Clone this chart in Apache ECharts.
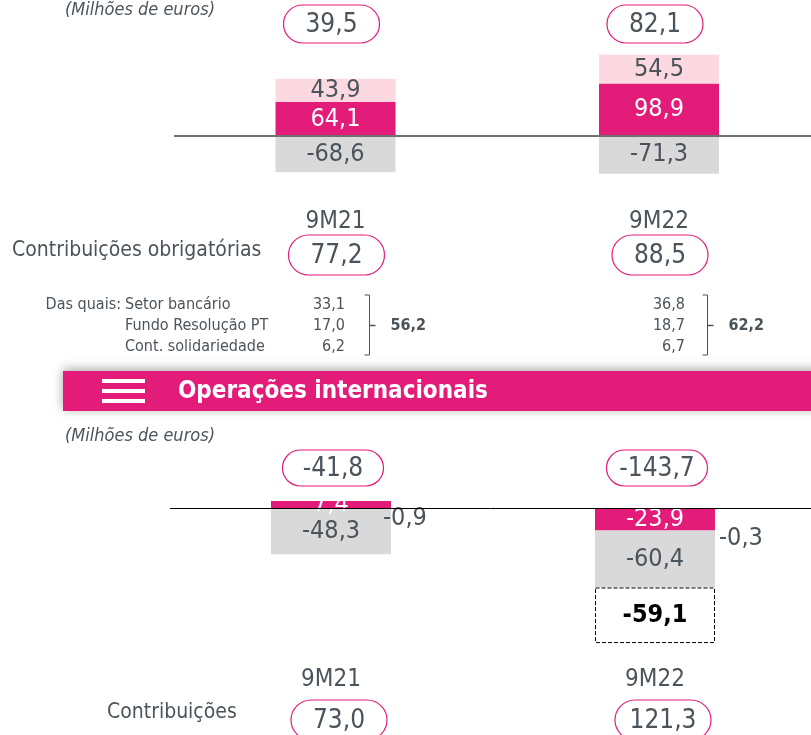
<!DOCTYPE html>
<html>
<head>
<meta charset="utf-8">
<script src="https://cdn.jsdelivr.net/npm/echarts@6/dist/echarts.min.js"></script>
<style>
  html, body { margin: 0; padding: 0; background: #fff; }
  #main { width: 811px; height: 735px; }
</style>
</head>
<body>
<div id="main"></div>
<script>
  const periods = ['9M21', '9M22']

  // Atividade em Portugal
  const ptMargem = [64.1, 98.9]
  const ptOutros = [43.9, 54.5]
  const ptCustos = [-68.6, -71.3]
  const ptTotal = [39.5, 82.1]
  const ptContrib = [77.2, 88.5]
  const setorBancario = [33.1, 36.8]
  const fundoResolucao = [17.0, 18.7]
  const contSolidariedade = [6.2, 6.7]
  const subtotal = [56.2, 62.2]

  // Operações internacionais
  const intMargem = [7.4, -23.9]
  const intOutros = [-0.9, -0.3]
  const intCustos = [-48.3, -60.4]
  const intExtra = [null, -59.1]
  const intTotal = [-41.8, -143.7]
  const intContrib = [73.0, 121.3]

  const MAGENTA = '#e31b79'
  const PINK = '#fcd9e1'
  const GRAY = '#d9d9d9'
  const TEXT = '#4b535b'
  const FONT = "'DejaVu Sans Condensed', 'Liberation Sans Narrow', 'DejaVu Sans', sans-serif"

  const fmt = v => v.toFixed(1).replace('.', ',')

  const valueLabel = (color, extra) => Object.assign({
    show: true,
    position: 'inside',
    color: color,
    fontSize: 25,
    fontFamily: FONT,
    formatter: p => fmt(p.value)
  }, extra || {})

  const bar = (grid, stack, data, color, label, extra) => Object.assign({
    type: 'bar',
    xAxisIndex: grid,
    yAxisIndex: grid,
    stack: stack,
    barWidth: 120,
    clip: false,
    data: data,
    itemStyle: { color: color },
    label: label
  }, extra || {})

  const chart = echarts.init(document.getElementById('main'))

  chart.setOption({
    animation: false,
    grid: [
      { left: 335.5, width: 323.5, top: 30, height: 159 },
      { left: 331, width: 324, top: 470.4, height: 188 }
    ],
    xAxis: [0, 1].map(i => ({
      gridIndex: i,
      type: 'category',
      boundaryGap: false,
      data: periods,
      axisLine: { show: false },
      axisTick: { show: false },
      splitLine: { show: false },
      axisLabel: {
        color: TEXT,
        fontSize: 24,
        fontFamily: FONT,
        margin: i === 0 ? 21 : 9
      }
    })),
    yAxis: [
      { gridIndex: 0, type: 'value', min: -100, max: 200, show: false },
      { gridIndex: 1, type: 'value', min: -160, max: 40, show: false }
    ],
    series: [
      bar(0, 'pt', ptMargem, MAGENTA, valueLabel('#fff')),
      bar(0, 'pt', ptOutros, PINK, valueLabel(TEXT)),
      bar(0, 'pt', ptCustos, GRAY, valueLabel(TEXT)),
      bar(1, 'int', intMargem, MAGENTA, valueLabel('#fff')),
      bar(1, 'int', intOutros.map((v, i) => ({
        value: v,
        label: { distance: i === 0 ? -8 : 4, offset: [0, i === 0 ? 10 : 8] }
      })), GRAY, valueLabel(TEXT, { position: 'right' })),
      bar(1, 'int', intCustos, GRAY, valueLabel(TEXT)),
      bar(1, 'int', intExtra, '#fff', valueLabel('#000', { fontWeight: 'bold' }), {
        itemStyle: { color: '#fff', borderColor: '#000', borderWidth: 1, borderType: 'dashed' }
      })
    ]
  })

  // caixas arredondadas com os totais
  function pill(cx, cy, v, w, h) {
    w = w || 96
    h = h || 38
    return {
      type: 'group',
      children: [
        {
          type: 'rect',
          shape: { x: cx - w / 2, y: cy - h / 2, width: w, height: h, r: h / 2 },
          style: { fill: '#fff', stroke: MAGENTA, lineWidth: 1.2 }
        },
        {
          type: 'text', x: cx, y: cy + 1,
          style: { text: fmt(v), fill: TEXT, fontSize: 26, fontFamily: FONT, align: 'center', verticalAlign: 'middle' }
        }
      ]
    }
  }

  function txt(x, y, s, opts) {
    return {
      type: 'text', x: x, y: y,
      style: Object.assign({ text: s, fill: TEXT, fontSize: 16, fontFamily: FONT, align: 'left', verticalAlign: 'middle' }, opts || {})
    }
  }

  function bracket(x, sub) {
    return [
      { type: 'polyline', shape: { points: [[x - 5, 295], [x, 295], [x, 355], [x - 5, 355]] }, style: { stroke: TEXT, lineWidth: 1, fill: null } },
      { type: 'line', shape: { x1: x, y1: 325.5, x2: x + 6, y2: 325.5 }, style: { stroke: TEXT, lineWidth: 1.5 } },
      txt(x + 21, 326, fmt(sub), { fontWeight: 'bold' })
    ]
  }

  const graphic = []
  const rows = [setorBancario, fundoResolucao, contSolidariedade]
  const valueRight = [345, 685]
  const bracketX = [369.5, 707.5]

  // linhas de base no zero de cada painel
  const zeroTop = chart.convertToPixel({ gridIndex: 0 }, [0, 0])[1]
  const zeroBot = chart.convertToPixel({ gridIndex: 1 }, [0, 0])[1]
  graphic.push(
    { type: 'line', z: 100, shape: { x1: 174, y1: zeroTop, x2: 811, y2: zeroTop }, style: { stroke: '#707070', lineWidth: 2 } },
    { type: 'line', z: 100, shape: { x1: 170, y1: zeroBot + 0.5, x2: 811, y2: zeroBot + 0.5 }, style: { stroke: '#000', lineWidth: 1 } }
  )

  periods.forEach((p, i) => {
    const cTop = chart.convertToPixel({ gridIndex: 0 }, [i, 0])[0]
    const cBot = chart.convertToPixel({ gridIndex: 1 }, [i, 0])[0]
    graphic.push(pill(cTop - 4, 24, ptTotal[i]))
    graphic.push(pill(cTop + 1, 255, ptContrib[i], 96, 40))
    graphic.push(pill(cBot + 2, 468, intTotal[i], 101, 36))
    graphic.push(pill(cBot + 8, 720, intContrib[i], 96, 40))
    rows.forEach((r, k) => {
      graphic.push(txt(valueRight[i], 305 + k * 21, fmt(r[i]), { align: 'right' }))
    })
    graphic.push(...bracket(bracketX[i], subtotal[i]))
  })

  graphic.push(
    txt(65, 10, '(Milhões de euros)', { fontSize: 18, fontStyle: 'italic' }),
    txt(12, 251, 'Contribuições obrigatórias', { fontSize: 21 }),
    txt(121, 305, 'Das quais:', { align: 'right' }),
    txt(125, 305, 'Setor bancário'),
    txt(125, 326, 'Fundo Resolução PT'),
    txt(125, 347, 'Cont. solidariedade'),
    {
      type: 'rect', shape: { x: 63, y: 371, width: 760, height: 40 },
      style: { fill: MAGENTA, shadowBlur: 10, shadowColor: 'rgba(0,0,0,0.35)', shadowOffsetY: -2 }
    },
    { type: 'rect', shape: { x: 102, y: 379, width: 43, height: 4 }, style: { fill: '#fff' } },
    { type: 'rect', shape: { x: 102, y: 389, width: 43, height: 4 }, style: { fill: '#fff' } },
    { type: 'rect', shape: { x: 102, y: 399, width: 43, height: 4 }, style: { fill: '#fff' } },
    txt(178, 392, 'Operações internacionais', { fill: '#fff', fontSize: 24, fontWeight: 'bold' }),
    txt(65, 436, '(Milhões de euros)', { fontSize: 18, fontStyle: 'italic' }),
    txt(107, 713, 'Contribuições', { fontSize: 21 })
  )

  chart.setOption({ graphic: graphic })
</script>
</body>
</html>
